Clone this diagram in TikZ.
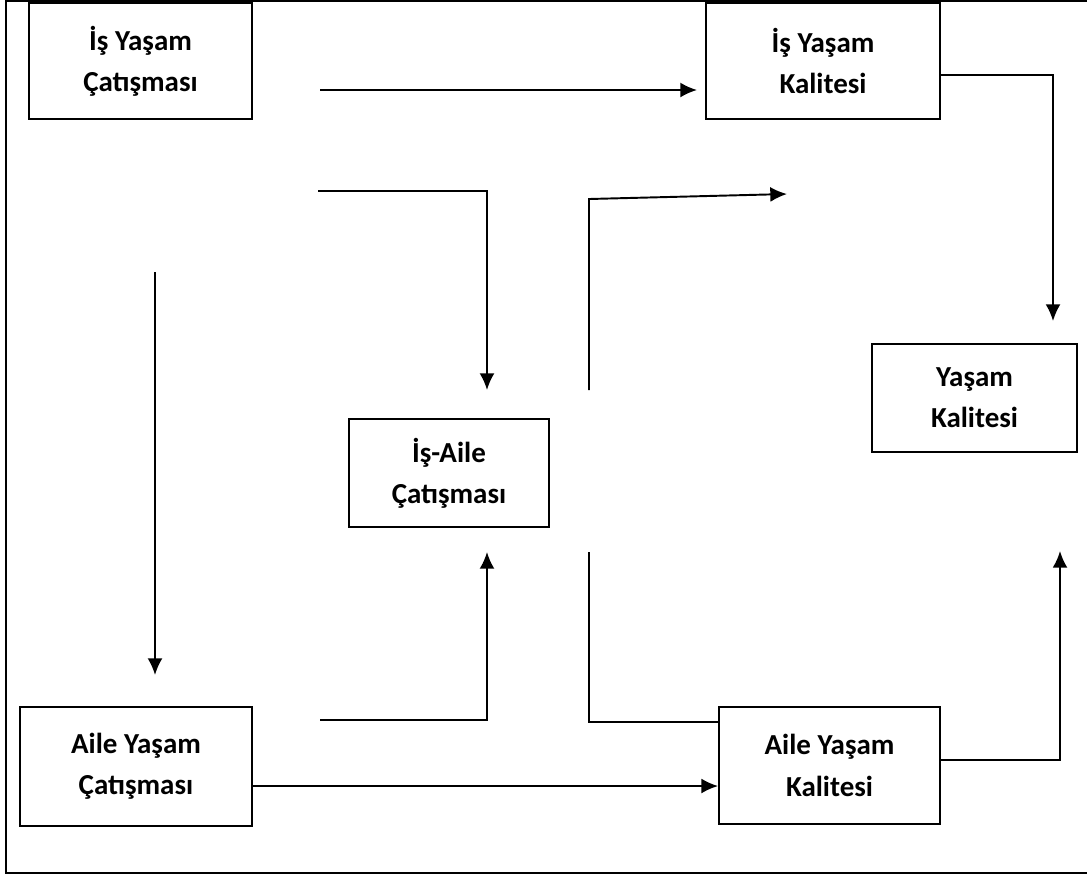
\documentclass[tikz,border=0pt]{standalone}
\usepackage{fontspec}
\setmainfont{Carlito}
\usetikzlibrary{arrows.meta}

\tikzset{
  box/.style={draw,line width=1.1pt,align=center,inner sep=0pt,
    font=\bfseries\fontsize{16.5}{23.5}\selectfont},
  arr/.style={-{Latex[length=9.5pt,width=8.5pt]},line width=1.1pt},
  link/.style={line width=1.1pt}
}

\begin{document}
\begin{tikzpicture}[x=0.02cm,y=-0.02cm]
  \useasboundingbox (0,0) rectangle (1087,877);
  \draw[line width=1.1pt] (6,1) rectangle (1110,873);

  % boxes
  \node[box,minimum width=4.46cm,minimum height=2.32cm] (wlc) at (140.5,61) {İş Yaşam\\Çatışması};
  \node[box,minimum width=4.68cm,minimum height=2.32cm] (wlq) at (823,61) {İş Yaşam\\Kalitesi};
  \node[box,minimum width=4.0cm,minimum height=2.16cm] (wfc) at (449,473) {İş-Aile\\Çatışması};
  \node[box,minimum width=4.1cm,minimum height=2.16cm] (lq) at (974.5,398) {Yaşam\\Kalitesi};
  \node[box,minimum width=4.64cm,minimum height=2.38cm] (flc) at (136,766.5) {Aile Yaşam\\Çatışması};
  \node[box,minimum width=4.42cm,minimum height=2.34cm] (flq) at (829.5,765.5) {Aile Yaşam\\Kalitesi};

  % free ends
  \coordinate (wlc-a) at (320,90);
  \coordinate (wlq-in) at (697,90);
  \coordinate (wlc-b) at (318,191);
  \coordinate (wfc-top) at (487,390);
  \coordinate (wlc-c) at (155,272);
  \coordinate (flc-top) at (155,675);
  \coordinate (flc-a) at (320,720);
  \coordinate (wfc-bot) at (487,552);
  \coordinate (wfc-c) at (589,552);
  \coordinate (wfc-d) at (589,390);
  \coordinate (wfc-e) at (589,199);
  \coordinate (wlq-bot) at (787,194);
  \coordinate (lq-top) at (1053,321);
  \coordinate (lq-bot) at (1060,551);

  % connectors
  \draw[arr] (wlc-a) -- (wlq-in);
  \draw[arr] (wlc-b) -| (wfc-top);
  \draw[arr] (wlc-c) -- (flc-top);
  \draw[arr] (flc-a) -| (wfc-bot);
  \draw[arr] (flc.east |- 0,786) -- (flq.west |- 0,786);
  \draw[link] (wfc-c) |- (flq.west |- 0,722);
  \draw[arr] (wfc-d) -- (wfc-e) -- (wlq-bot);
  \draw[arr] (wlq.east |- 0,75) -| (lq-top);
  \draw[arr] (flq.east |- 0,760) -| (lq-bot);
\end{tikzpicture}
\end{document}
